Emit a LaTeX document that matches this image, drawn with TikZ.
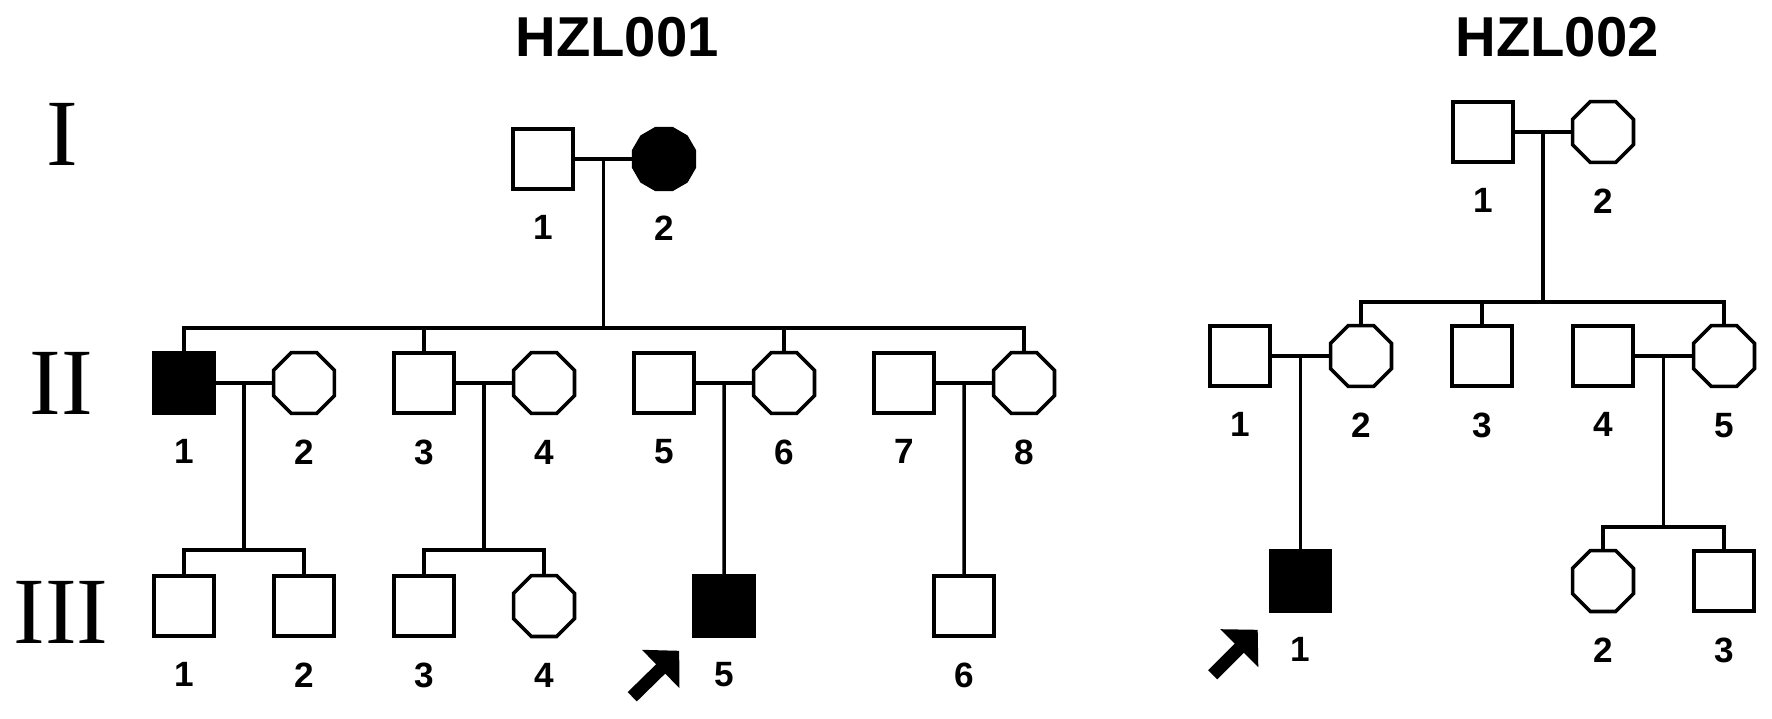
\documentclass[tikz,border=0pt]{standalone}
\usepackage{fontspec}
\setmainfont{Liberation Sans}
\newfontfamily\romanfont{Liberation Serif}
\usetikzlibrary{calc,positioning,arrows.meta,shapes.geometric}

\begin{document}
\begin{tikzpicture}[
    male/.style={draw, line width=1pt, minimum size=0.60cm, inner sep=0pt, fill=white},
    female/.style={draw, line width=1pt, regular polygon, regular polygon sides=8,
      minimum size=0.66cm, inner sep=0pt, fill=white},
    affected/.style={fill=black},
    num/.style={label={[font=\bfseries, inner sep=0pt, label distance=0.24cm]below:#1}},
    line/.style={line width=1pt},
    gen/.style={font=\romanfont\fontsize{27}{27}\selectfont, inner sep=0pt},
    title/.style={font=\fontsize{16}{18}\selectfont\bfseries, inner sep=0pt},
    proband/.style={line width=3.7pt, -{Triangle[length=0.26cm, width=0.52cm]}}
  ]
  \useasboundingbox[fill=white] (0,0) rectangle (17.72,7.18);

  % Generation numbers
  \node[gen] (g1) at (0.62,5.84) {I};
  \node[gen] (g2) at (0.61,3.35) {II};
  \node[gen] (g3) at (0.61,1.06) {III};

  % ---------------- HZL001 ----------------
  \node[title] (t1) at (6.17,6.81) {HZL001};
  % Generation I
  \node[male, num=1] (a-I1) at (5.43,5.59) {};
  \node[female, affected, regular polygon sides=12, minimum size=0.63cm, num=2]
    (a-I2) at (6.64,5.59) {};
  \draw[line] (a-I1) -- (a-I2);
  \coordinate (a-m1) at ($(a-I1)!0.5!(a-I2)$);
  \coordinate (a-s1) at (a-m1 |- 0,3.90);
  % Generation II
  \node[male, affected, num=1] (a-II1) at (1.84,3.35) {};
  \node[female, num=2] (a-II2) at (3.04,3.35) {};
  \node[male, num=3] (a-II3) at (4.24,3.35) {};
  \node[female, num=4] (a-II4) at (5.44,3.35) {};
  \node[male, num=5] (a-II5) at (6.64,3.35) {};
  \node[female, num=6] (a-II6) at (7.84,3.35) {};
  \node[male, num=7] (a-II7) at (9.04,3.35) {};
  \node[female, num=8] (a-II8) at (10.24,3.35) {};
  \draw[line] (a-m1) -- (a-s1);
  \draw[line] (a-II1.north) |- (a-s1) -| (a-II8.north);
  \draw[line] (a-II3.north) -- (a-II3.north |- a-s1);
  \draw[line] (a-II6.north) -- (a-II6.north |- a-s1);
  \draw[line] (a-II1) -- (a-II2);
  \draw[line] (a-II3) -- (a-II4);
  \draw[line] (a-II5) -- (a-II6);
  \draw[line] (a-II7) -- (a-II8);
  \coordinate (a-m2) at ($(a-II1)!0.5!(a-II2)$);
  \coordinate (a-m3) at ($(a-II3)!0.5!(a-II4)$);
  \coordinate (a-m4) at ($(a-II5)!0.5!(a-II6)$);
  \coordinate (a-m5) at ($(a-II7)!0.5!(a-II8)$);
  % Generation III
  \node[male, num=1] (a-III1) at (1.84,1.12) {};
  \node[male, num=2] (a-III2) at (3.04,1.12) {};
  \node[male, num=3] (a-III3) at (4.24,1.12) {};
  \node[female, num=4] (a-III4) at (5.44,1.12) {};
  \node[male, affected, num=5] (a-III5) at (7.24,1.12) {};
  \node[male, num=6] (a-III6) at (9.64,1.12) {};
  \coordinate (a-s2) at (a-m2 |- 0,1.68);
  \coordinate (a-s3) at (a-m3 |- 0,1.68);
  \draw[line] (a-m2) -- (a-s2);
  \draw[line] (a-III1.north) |- (a-s2) -| (a-III2.north);
  \draw[line] (a-m3) -- (a-s3);
  \draw[line] (a-III3.north) |- (a-s3) -| (a-III4.north);
  \draw[line] (a-m4) -- (a-III5);
  \draw[line] (a-m5) -- (a-III6);
  % proband
  \coordinate (a-tip) at ($(a-III5.south west)+(-0.13,-0.13)$);
  \coordinate (a-tail) at ($(a-tip)+(-0.47,-0.46)$);
  \draw[proband] (a-tail) -- (a-tip);

  % ---------------- HZL002 ----------------
  \node[title] (t2) at (15.57,6.81) {HZL002};
  % Generation I
  \node[male, num=1] (b-I1) at (14.83,5.86) {};
  \node[female, num=2] (b-I2) at (16.03,5.86) {};
  \draw[line] (b-I1) -- (b-I2);
  \coordinate (b-m1) at ($(b-I1)!0.5!(b-I2)$);
  \coordinate (b-s1) at (b-m1 |- 0,4.16);
  % Generation II
  \node[male, num=1] (b-II1) at (12.40,3.62) {};
  \node[female, num=2] (b-II2) at (13.61,3.62) {};
  \node[male, num=3] (b-II3) at (14.82,3.62) {};
  \node[male, num=4] (b-II4) at (16.03,3.62) {};
  \node[female, num=5] (b-II5) at (17.24,3.62) {};
  \draw[line] (b-m1) -- (b-s1);
  \draw[line] (b-II2.north) |- (b-s1) -| (b-II5.north);
  \draw[line] (b-II3.north) -- (b-II3.north |- b-s1);
  \draw[line] (b-II1) -- (b-II2);
  \draw[line] (b-II4) -- (b-II5);
  \coordinate (b-m2) at ($(b-II1)!0.5!(b-II2)$);
  \coordinate (b-m3) at ($(b-II4)!0.5!(b-II5)$);
  % Generation III
  \node[male, affected, num=1] (b-III1) at (b-m2 |- 0,1.37) {};
  \node[female, num=2] (b-III2) at (16.03,1.37) {};
  \node[male, num=3] (b-III3) at (17.24,1.37) {};
  \coordinate (b-s2) at (b-m3 |- 0,1.91);
  \draw[line] (b-m2) -- (b-III1);
  \draw[line] (b-m3) -- (b-s2);
  \draw[line] (b-III2.north) |- (b-s2) -| (b-III3.north);
  % proband
  \coordinate (b-tip) at ($(b-III1.south west)+(-0.11,-0.17)$);
  \coordinate (b-tail) at ($(b-tip)+(-0.45,-0.45)$);
  \draw[proband] (b-tail) -- (b-tip);
\end{tikzpicture}
\end{document}
